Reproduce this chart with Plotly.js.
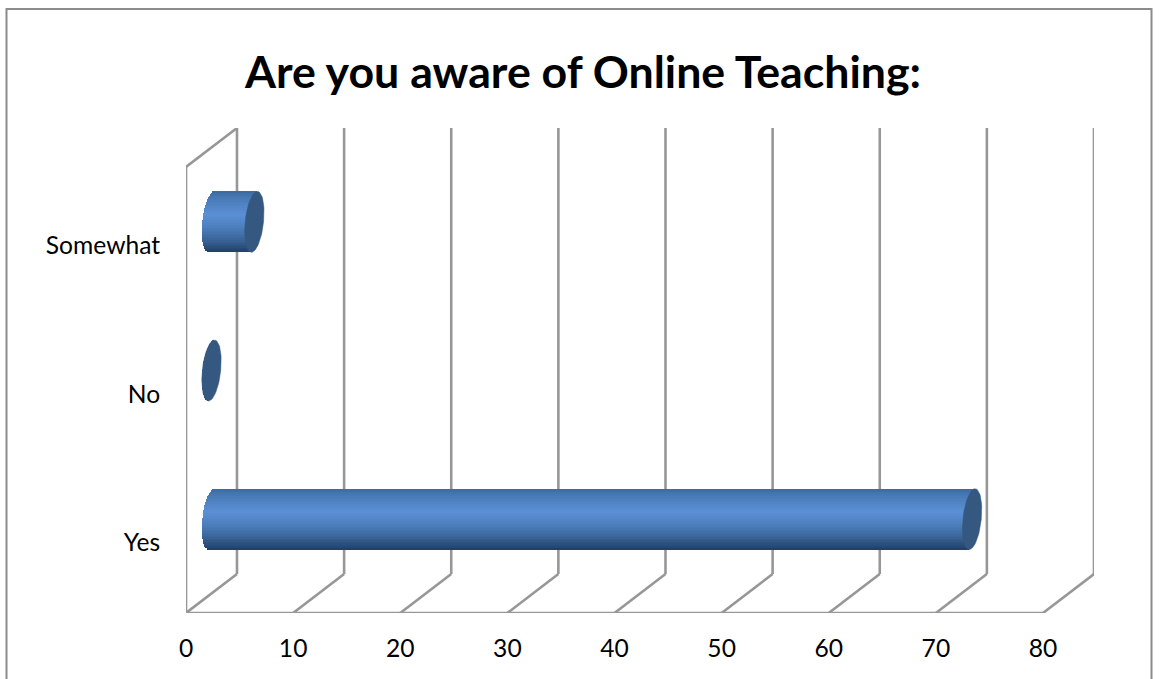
<!DOCTYPE html>
<html>
<head>
<meta charset="utf-8">
<script src="https://cdn.plot.ly/plotly-3.0.1.min.js"></script>
<style>html,body{margin:0;padding:0;background:#fff}#chart{width:1160px;height:679px}</style>
</head>
<body>
<div id="chart"></div>
<script>
const categories = ["Yes", "No", "Somewhat"];
const values = [71, 0, 4];
const xTicks = [0, 10, 20, 30, 40, 50, 60, 70, 80];
const chartTitle = "Are you aware of Online Teaching:";

const wallDx = 4.76, wallDy = 0.262;
const barDx = wallDx / 2, barDy = wallDy / 2;
const barHeight = 0.41, capRx = 0.86, capTilt = 0.28;
const yMin = -0.5, yMax = 2.762;
const labelNudge = 0.027;
const gridColor = "#979797", capColor = "#34587f";
const stops = [[0, [60,106,160]], [0.1,[70,120,178]], [0.38,[91,144,214]], [0.6,[76,126,188]], [0.8,[58,100,152]], [1,[33,62,100]]];

function shade(t){
  for(let i=1;i<stops.length;i++){
    if(t<=stops[i][0]){
      const a=stops[i-1],b=stops[i],f=(t-a[0])/(b[0]-a[0]);
      const c=a[1].map((v,k)=>Math.round(v+(b[1][k]-v)*f));
      return `rgb(${c.join(",")})`;
    }
  }
  return "rgb(33,62,100)";
}

const traces = [];
const bands = 40;
for(let b=0;b<bands;b++){
  const t=(b+0.5)/bands, u=2*t-1;
  const edge=Math.sqrt(1-u*u)*capRx;
  const skew=-u*capTilt;
  traces.push({
    type:"bar", orientation:"h",
    y:categories.map((c,i)=>i+barDy+barHeight/2-t*barHeight),
    x:values.map(v=>v+edge),
    base:values.map(()=>barDx-edge+skew),
    width:barHeight/bands*1.15,
    marker:{color:shade(t),line:{width:0}},
    hoverinfo:"skip", showlegend:false
  });
}
values.forEach((v,i)=>{
  const cx=[],cy=[];
  for(let k=0;k<=72;k++){
    const a=k/72*2*Math.PI, s=Math.sin(a), c=Math.cos(a);
    cx.push(barDx+v+capRx*c+capTilt*s);
    cy.push(i+barDy+barHeight/2*s);
  }
  traces.push({type:"scatter",mode:"lines",x:cx,y:cy,fill:"toself",fillcolor:capColor,
    line:{color:capColor,width:0.5},hoverinfo:"skip",showlegend:false});
});

const seg=(x0,y0,x1,y1)=>({type:"line",xref:"x",yref:"y",x0,y0,x1,y1,layer:"below",line:{color:gridColor,width:2.6}});
const shapes=[];
xTicks.forEach(t=>{
  shapes.push(seg(t,yMin,t+wallDx,yMin+wallDy));
  shapes.push(seg(t+wallDx,yMin+wallDy,t+wallDx,yMax));
});
shapes.push(seg(0,yMin,80,yMin));
shapes.push(seg(0,yMin,0,yMax-wallDy));
shapes.push(seg(0,yMax-wallDy,wallDx,yMax));
shapes.push({type:"rect",xref:"paper",yref:"paper",
  x0:(6.5-186)/908,x1:(1151.5-186)/908,y0:(613-690)/485,y1:(613-9)/485,layer:"below",
  line:{color:"#8c8c8c",width:2},fillcolor:"rgba(0,0,0,0)"});

const fontFam="Lato, 'Open Sans', sans-serif";
const layout={
  width:1160,height:679,
  margin:{l:186,r:66,t:128,b:66,pad:0},
  paper_bgcolor:"#fff",plot_bgcolor:"rgba(0,0,0,0)",
  barmode:"overlay",bargap:0,showlegend:false,
  title:{text:"<b>"+chartTitle+"</b>",x:0.5026,xref:"container",xanchor:"center",y:0.893,yref:"container",yanchor:"middle",
    font:{family:fontFam,size:44.7,color:"#000"}},
  xaxis:{range:[0,84.76],tickvals:xTicks,ticktext:xTicks.map(String),showgrid:false,zeroline:false,showline:false,
    ticks:"outside",ticklen:13,tickcolor:"rgba(0,0,0,0)",tickfont:{family:fontFam,size:24.6,color:"#000"},fixedrange:true},
  yaxis:{range:[yMin,yMax],tickvals:categories.map((c,i)=>i-labelNudge),ticktext:categories,showgrid:false,zeroline:false,showline:false,
    ticks:"outside",ticklen:20,tickcolor:"rgba(0,0,0,0)",tickfont:{family:fontFam,size:24.6,color:"#000"},fixedrange:true},
  shapes
};
Plotly.newPlot("chart",traces,layout,{displayModeBar:false,staticPlot:true});
</script>
</body>
</html>
